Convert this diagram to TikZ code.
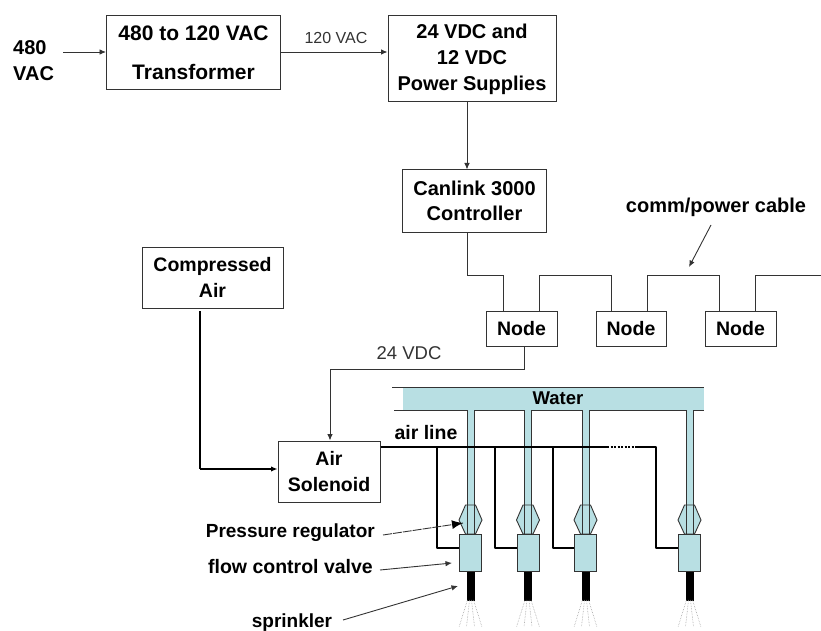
\documentclass[tikz,border=0pt]{standalone}
\usepackage{fontspec}
\setmainfont{Liberation Sans}
\usepackage{tikz}
\usetikzlibrary{arrows.meta,positioning}
\definecolor{waterblue}{HTML}{B8DFE3}
\definecolor{linegray}{HTML}{333333}

\begin{document}
\begin{tikzpicture}[x=1pt,y=-1pt,>={Latex[length=6.5pt,width=5.5pt]}]

\useasboundingbox (0,0) rectangle (821,631);

\tikzstyle{boxnode}=[draw=linegray,line width=1pt,fill=white,inner sep=0pt,align=center,
 font=\fontsize{19.5}{25.5}\selectfont\bfseries];
\tikzstyle{labelnode}=[inner sep=0pt,font=\fontsize{19.5}{25.5}\selectfont\bfseries];
\tikzstyle{graynode}=[inner sep=0pt,text=linegray,font=\fontsize{16}{18}\selectfont];
\tikzstyle{wire}=[draw=linegray,line width=0.9pt];
\tikzstyle{airwire}=[draw=black,line width=1.9pt];

\node[boxnode,minimum width=174pt,minimum height=74pt,font=\fontsize{21}{25.5}\selectfont\bfseries] (transformer) at (193.5,53)
  {480 to 120 VAC\\[13pt]Transformer};
\node[boxnode,minimum width=168pt,minimum height=86pt,font=\fontsize{20}{26}\selectfont\bfseries] (supplies) at (472,59)
  {24 VDC and\\12 VDC\\Power Supplies};
\node[boxnode,minimum width=144pt,minimum height=62pt,font=\fontsize{20}{25}\selectfont\bfseries] (canlink) at (474.5,201)
  {Canlink 3000\\Controller};
\node[boxnode,minimum width=141pt,minimum height=61pt] (compressed) at (212.5,277.5)
  {Compressed\\Air};
\node[boxnode,minimum width=102pt,minimum height=61pt] (solenoid) at (329,471.5)
  {Air\\Solenoid};
\node[boxnode,minimum width=71pt,minimum height=35pt] (node1) at (521.5,328.5) {Node};
\node[boxnode,minimum width=70pt,minimum height=35pt] (node2) at (631,328.5) {Node};
\node[boxnode,minimum width=71pt,minimum height=35pt] (node3) at (740.5,328.5) {Node};

\node[labelnode,align=left,anchor=north west,font=\fontsize{20}{26}\selectfont\bfseries] (vac) at (13,40) {480\\VAC};
\node[graynode] (acLabel) at (336,38) {120 VAC};
\node[graynode,font=\fontsize{18.5}{20}\selectfont] (dcLabel) at (409,353) {24 VDC};
\node[labelnode,font=\fontsize{20}{25}\selectfont\bfseries] (cableLabel) at (716,207) {comm/power cable};
\node[labelnode] (airLabel) at (426,433) {air line};
\node[labelnode,anchor=east,font=\fontsize{19}{25}\selectfont\bfseries] (regLabel) at (375,533) {Pressure regulator};
\node[labelnode,anchor=east] (flowLabel) at (373,567) {flow control valve};
\node[labelnode,font=\fontsize{19}{25}\selectfont\bfseries] (sprinklerLabel) at (292,623) {sprinkler};

% power side
\coordinate (vacEnd) at (63,52);
\draw[wire,->] (vacEnd) -- (vacEnd -| transformer.west);
\draw[wire,->] (transformer.east |- vacEnd) -- (supplies.west |- vacEnd);
\coordinate (canlinkIn) at (467,140);
\draw[wire,->] (supplies.south -| canlinkIn) -- (canlink.north -| canlinkIn);

% comm cable
\coordinate (busY) at (0,275);
\coordinate (a1) at (467,0);
\coordinate (a2) at (503,0);
\coordinate (a3) at (539,0);
\coordinate (a4) at (611,0);
\coordinate (a5) at (647,0);
\coordinate (a6) at (719,0);
\coordinate (a7) at (755,0);
\coordinate (busEnd) at (821,275);
\draw[wire] (canlink.south -| a1) -- (busY -| a1) -- (busY -| a2) -- (node1.north -| a2);
\draw[wire] (node1.north -| a3) -- (busY -| a3) -- (busY -| a4) -- (node2.north -| a4);
\draw[wire] (node2.north -| a5) -- (busY -| a5) -- (busY -| a6) -- (node3.north -| a6);
\draw[wire] (node3.north -| a7) -- (busY -| a7) -- (busEnd);

\coordinate (cableTail) at (711,225);
\coordinate (cableTip) at (689,267);
\draw[wire,->] (cableTail) -- (cableTip);

% 24 VDC to the solenoid
\coordinate (dcBend) at (330,369);
\draw[wire,->] (node1.south) ++(2.5,0) |- (dcBend) -- (solenoid.north -| dcBend);

% water header
\fill[waterblue] (403,387) rectangle (704,410);
\coordinate (hdrTop) at (392,387);
\coordinate (hdrBot) at (394,410);
\coordinate (hdrTopEnd) at (704,387);
\coordinate (hdrBotEnd) at (704,410);
\draw[wire] (hdrTop) -- (hdrTopEnd);
\draw[wire] (hdrBot) -- (hdrBotEnd);
\node[labelnode,font=\fontsize{18.5}{20}\selectfont\bfseries] (waterLabel) at (558,398) {Water};

% sprinkler columns
\foreach \n/\x in {1/470.5,2/528,3/585.5,4/689.5}{
  \fill[waterblue] (\x-3.5,409) rectangle (\x+3.5,534);
  \draw[wire,fill=waterblue] (\x-5,505) -- (\x+5,505) -- (\x+11.5,520) -- (\x+5,534)
    -- (\x-5,534) -- (\x-11.5,520) -- cycle;
  \draw[wire] (\x-3.5,410) -- (\x-3.5,534);
  \draw[wire] (\x+3.5,410) -- (\x+3.5,534);
  \node[draw=linegray,line width=1pt,fill=waterblue,minimum width=22pt,minimum height=37pt,
    inner sep=0pt] (valve\n) at (\x,552.5) {};
  \node[fill=black,minimum width=8pt,minimum height=29pt,inner sep=0pt,anchor=north]
    (nozzle\n) at (valve\n.south) {};
  \foreach \s/\e in {-3/-11.5,-1/-4,1/4,3/11.5}{
    \draw[gray!70,densely dotted,line width=0.6pt] (\x+\s,600) -- (\x+\e,627);
  }
}

% air lines
\coordinate (airIn) at (200,469);
\coordinate (airTop) at (200,311);
\draw[airwire,-] (airTop) -- (airIn);
\draw[airwire,->,line width=1.6pt] (airIn) -- (solenoid.west |- airIn);
\coordinate (airY) at (0,447);
\coordinate (dotA) at (607,447);
\coordinate (dotB) at (637,447);
\coordinate (airEnd) at (656,447);
\draw[airwire] (solenoid.east |- airY) -- (dotA);
\draw[airwire,line width=1.4pt,dash pattern=on 2pt off 1.5pt] (dotA) -- (dotB);
\draw[airwire,line join=round] (dotB) -- (airEnd) |- (valve4.west |- 0,548);
\foreach \n/\x in {1/437,2/495,3/553}{
  \coordinate (drop\n) at (\x,447);
  \draw[airwire,line join=round] (drop\n) |- (valve\n.west |- 0,548);
}

% pointers
\coordinate (regTail) at (383,535);
\coordinate (regTip) at (463,523);
\coordinate (flowTail) at (380,570);
\coordinate (flowTip) at (452,563);
\coordinate (sprTail) at (343,620);
\coordinate (sprTip) at (458,586);
\draw[wire,dash pattern=on 9pt off 1pt,-] (regTail) -- (regTip);
\draw[draw=black,line width=1.2pt,-{Latex[length=11pt,width=9pt]}] (452,524.6) -- (regTip);
\draw[wire,->] (flowTail) -- (flowTip);
\draw[wire,->] (sprTail) -- (sprTip);

\end{tikzpicture}
\end{document}
